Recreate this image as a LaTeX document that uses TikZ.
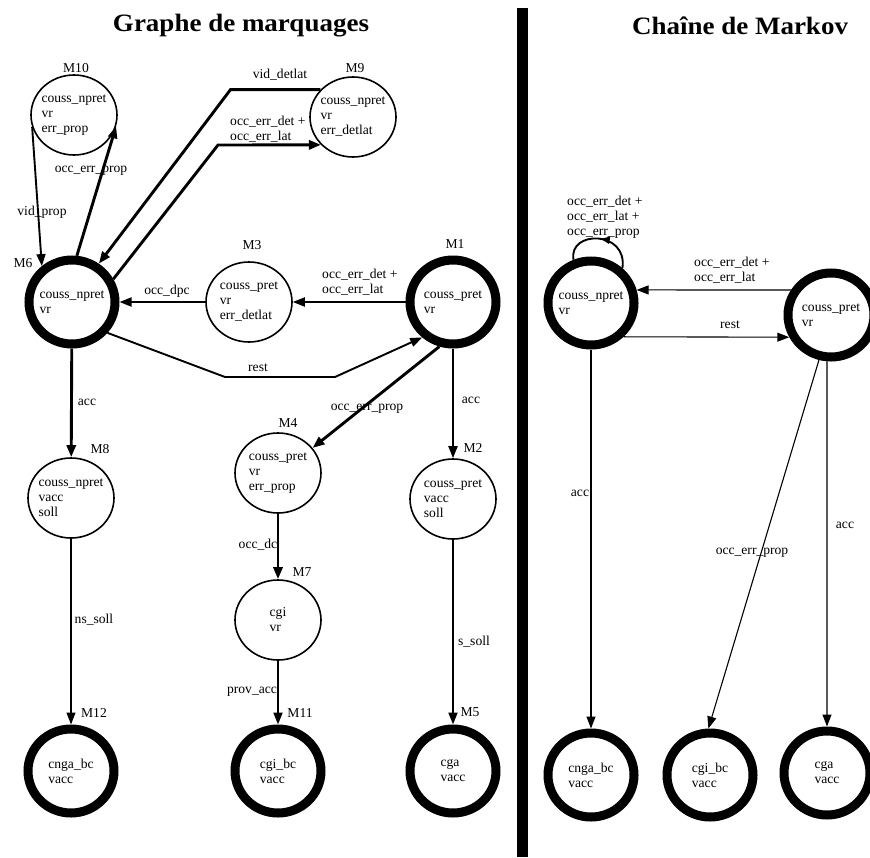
\documentclass[tikz,border=0pt]{standalone}
\usepackage{fontspec}
\setmainfont{Liberation Serif}
\usetikzlibrary{arrows.meta,shapes.geometric,decorations.markings}

\begin{document}
\begin{tikzpicture}[x=1pt,y=-1pt,
  every node/.style={font=\fontsize{13.6}{15}\selectfont},
  % ordinary marking / state
  st/.style={ellipse, draw, line width=1.6pt, minimum width=86pt,
    minimum height=80pt, inner sep=-14pt, align=left},
  % absorbing marking / state
  fin/.style={st, line width=9pt, minimum height=84pt},
  lbl/.style={inner sep=0pt},
  ttl/.style={inner sep=0pt, font=\fontsize{25}{28}\selectfont\bfseries},
  arr/.style={-{Triangle[length=12pt,width=9pt]}},
  wa/.style={line width=1.1pt},
  wb/.style={line width=1.9pt},
  wc/.style={line width=2.9pt},
  midarrow/.style={postaction={decorate},
    decoration={markings, mark=at position 0.5 with
      {\arrow{Triangle[length=9pt,width=7pt]}}}}
]
\useasboundingbox (0,0) rectangle (870,857);

% titles and separator
\node[ttl, anchor=base] (tg) at (241,31) {\scalebox{1.08}[1]{Graphe de marquages}};
\node[ttl, anchor=base] (tm) at (740,34) {\scalebox{1.08}[1]{Chaîne de Markov}};
\fill (517,8) rectangle (528,857);

% ---------------- marking graph ----------------
\node[st]  (M10) at (74,115)  {couss\_npret\\vr\\err\_prop};
\node[st]  (M9)  at (353,117) {couss\_npret\\vr\\err\_detlat};
\node[fin] (M6)  at (72,302)  {couss\_npret\\vr};
\node[st]  (M3)  at (249,302) {couss\_pret\\vr\\err\_detlat};
\node[fin] (M1)  at (453,302) {couss\_pret\\vr};
\node[st]  (M8)  at (71,498)  {couss\_npret\\vacc\\soll};
\node[st]  (M4)  at (278,473) {couss\_pret\\vr\\err\_prop};
\node[st]  (M2)  at (453,499) {couss\_pret\\vacc\\soll};
\node[st]  (M7)  at (278,620) {cgi\\vr};
\node[fin] (M12) at (71,771)  {cnga\_bc\\vacc};
\node[fin] (M11) at (278,771) {cgi\_bc\\vacc};
\node[fin] (M5)  at (453,771) {cga\\vacc};

% marking names
\node[lbl] (n10) at (76,68)   {M10};
\node[lbl] (n9)  at (355,68)  {M9};
\node[lbl] (n6)  at (23,263)  {M6};
\node[lbl] (n3)  at (252,245) {M3};
\node[lbl] (n1)  at (455,244) {M1};
\node[lbl] (n8)  at (100,449) {M8};
\node[lbl] (n4)  at (288,423) {M4};
\node[lbl] (n2)  at (473,448) {M2};
\node[lbl] (n7)  at (302,572) {M7};
\node[lbl] (n12) at (94,713)  {M12};
\node[lbl] (n11) at (300,713) {M11};
\node[lbl] (n5)  at (470,712) {M5};

% transitions
\draw[arr, wb] (M10.196) -- (M6.130);
\draw[arr, wc] (M6.84) -- (M10.-15);
\draw[arr, wc] (M9.140) -- ++(-90,0) -- (M6.55);
\draw[arr, wc] (M6.29) -- (218,145) -- (M9.221);
\draw[arr, wb] (M3) -- (M6);
\draw[arr, wb] (M1) -- (M3);
\draw[arr, wb] (M6.-41) -- (225,377) -- (335,377) -- (M1.229);
\draw[arr, wc] (M1.253) -- (M4.36);
\draw[arr, wb] (M1) -- (M2);
\draw[arr, wc] (M6) -- (M8);
\draw[arr, wc] (M4) -- (M7);
\draw[arr, wa] (M8) -- (M12);
\draw[arr, wb] (M7) -- (M11);
\draw[arr, wb] (M2) -- (M5);

% transition labels
\node[lbl] (e1)  at (42,212)  {vid\_prop};
\node[lbl] (e2)  at (91,171)  {occ\_err\_prop};
\node[lbl] (e3)  at (280,75)  {vid\_detlat};
\node[lbl, anchor=west, align=left] (e4) at (230,129) {occ\_err\_det +\\occ\_err\_lat};
\node[lbl] (e5)  at (167,291) {occ\_dpc};
\node[lbl, anchor=west, align=left] (e6) at (322,282) {occ\_err\_det +\\occ\_err\_lat};
\node[lbl] (e7)  at (258,368) {rest};
\node[lbl] (e8)  at (367,409) {occ\_err\_prop};
\node[lbl] (e9)  at (471,400) {acc};
\node[lbl] (e10) at (87,402)  {acc};
\node[lbl] (e11) at (258,545) {occ\_dc};
\node[lbl] (e12) at (94,620)  {ns\_soll};
\node[lbl] (e13) at (252,692) {prov\_acc};
\node[lbl] (e14) at (474,642) {s\_soll};

% ---------------- Markov chain ----------------
\node[fin] (A) at (591,303) {couss\_npret\\vr};
\node[fin] (B) at (831,315) {couss\_pret\\vr};
\node[fin] (C) at (591,775) {cnga\_bc\\vacc};
\node[fin] (D) at (710,775) {cgi\_bc\\vacc};
\node[fin] (E) at (827,773) {cga\\vacc};

\draw[wb, midarrow] (A.48) .. controls (628,230) and (568,230) .. (A.112);
\draw[arr, wa] (B.148) -- (A.16);
\draw[arr, wa] (A.-46) -- (B.208);
\draw[arr, wa] (A) -- (C);
\draw[arr, wa] (B.-95) -- (E);
\draw[arr, wa] (B.-105) -- (D.92);

\node[lbl, anchor=west, align=left] (f1) at (567,217) {occ\_err\_det +\\occ\_err\_lat +\\occ\_err\_prop};
\node[lbl, anchor=west, align=left] (f2) at (694,270) {occ\_err\_det +\\occ\_err\_lat};
\node[lbl] (f3) at (730,325) {rest};
\node[lbl] (f4) at (580,493) {acc};
\node[lbl] (f5) at (845,525) {acc};
\node[lbl] (f6) at (752,553) {occ\_err\_prop};
\end{tikzpicture}
\end{document}
